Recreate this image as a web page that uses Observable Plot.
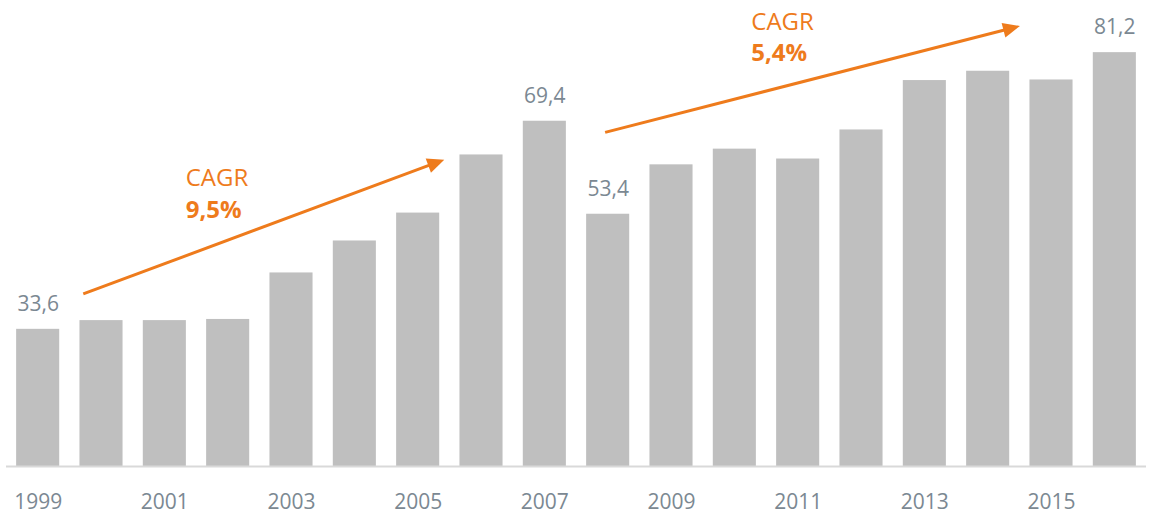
<!DOCTYPE html>
<html>
<head>
<meta charset="utf-8">
<script src="https://cdn.jsdelivr.net/npm/d3@7"></script>
<script src="https://cdn.jsdelivr.net/npm/@observablehq/plot@0.6"></script>
<style>
  html, body { margin: 0; padding: 0; background: #ffffff; }
  #chart svg { display: block; }
</style>
</head>
<body>
<div id="chart"></div>
<script>
// ---- Data ----
const years = [1999, 2000, 2001, 2002, 2003, 2004, 2005, 2006, 2007, 2008, 2009, 2010, 2011, 2012, 2013, 2014, 2015, 2016];
const values = [33.6, 35.1, 35.1, 35.3, 43.3, 48.8, 53.6, 63.6, 69.4, 53.4, 61.9, 64.6, 62.9, 67.9, 76.4, 78.0, 76.5, 81.2];
const labeledYears = [1999, 2007, 2008, 2016];
const tickYears = [1999, 2001, 2003, 2005, 2007, 2009, 2011, 2013, 2015];
const yBase = 10;

// CAGR annotations (in data units: year, value)
const arrows = [
  {x1: 1999.72, y1: 39.6, x2: 2005.42, y2: 62.7},
  {x1: 2007.96, y1: 67.4, x2: 2014.51, y2: 85.7}
];
const cagrLabels = [
  {x: 2001.33, y: 59.5, title: "CAGR", rate: "9,5%", ry: 54.1},
  {x: 2010.26, y: 86.4, title: "CAGR", rate: "5,4%", ry: 81.05}
];

const data = years.map((year, i) => ({year, value: values[i]}));
const labeled = data.filter(d => labeledYears.includes(d.year));
const fmt = v => v.toFixed(1).replace(".", ",");

const ORANGE = "#EE7B1C";
const BAR = "#BFBFBF";
const TEXT = "#7B8892";
const half = 0.34;

// Custom arrow mark with filled triangular head, positioned through the plot's scales
function arrowMark(index, scales) {
  const g = d3.create("svg:g");
  const headLen = 17, headHalf = 7.5;
  for (const a of arrows) {
    const sx = scales.x(a.x1), sy = scales.y(a.y1);
    const tx = scales.x(a.x2), ty = scales.y(a.y2);
    const dx = tx - sx, dy = ty - sy;
    const len = Math.hypot(dx, dy);
    const ux = dx / len, uy = dy / len;
    const bx = tx - ux * headLen, by = ty - uy * headLen;
    g.append("line")
      .attr("x1", sx).attr("y1", sy)
      .attr("x2", bx + ux * 2).attr("y2", by + uy * 2)
      .attr("stroke", ORANGE).attr("stroke-width", 3);
    g.append("path")
      .attr("d", `M${tx},${ty}L${bx - uy * headHalf},${by + ux * headHalf}L${bx + uy * headHalf},${by - ux * headHalf}Z`)
      .attr("fill", ORANGE);
  }
  return g.node();
}

const plot = Plot.plot({
  width: 1149,
  height: 514,
  marginTop: 1,
  marginBottom: 48,
  marginLeft: 6,
  marginRight: 3,
  style: {fontFamily: "'Open Sans', 'Noto Sans', sans-serif", background: "#ffffff"},
  x: {domain: [1998.5, 2016.5], axis: null},
  y: {domain: [10, 90], axis: null},
  marks: [
    Plot.rectY(data, {
      x1: d => d.year - half,
      x2: d => d.year + half,
      y1: d => yBase,
      y2: "value",
      fill: BAR
    }),
    Plot.ruleY([yBase], {stroke: "#D9D9D9", strokeWidth: 2}),
    Plot.axisX(tickYears, {
      tickSize: 0,
      tickPadding: 28,
      tickFormat: d => String(d),
      fontSize: 21,
      color: TEXT
    }),
    Plot.text(labeled, {
      x: "year",
      y: "value",
      text: d => fmt(d.value),
      dy: -25,
      fontSize: 21,
      fill: TEXT
    }),
    arrowMark,
    Plot.text(cagrLabels, {
      x: "x", y: "y", text: "title",
      textAnchor: "start", fontSize: 24, fill: ORANGE
    }),
    Plot.text(cagrLabels, {
      x: "x", y: "ry", text: "rate",
      textAnchor: "start", fontSize: 24, fontWeight: "bold", fill: ORANGE
    })
  ]
});

document.getElementById("chart").appendChild(plot);
</script>
</body>
</html>
